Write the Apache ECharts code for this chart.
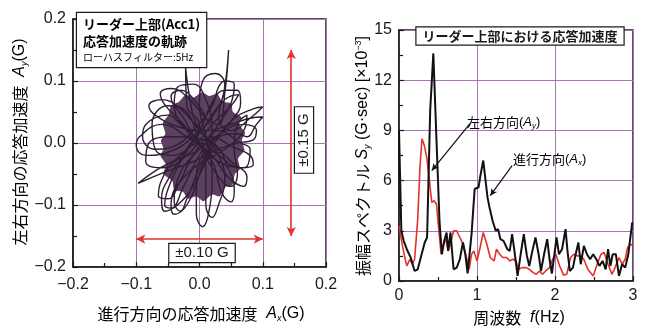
<!DOCTYPE html>
<html>
<head>
<meta charset="utf-8">
<script src="https://cdn.jsdelivr.net/npm/echarts@6/dist/echarts.min.js"></script>
<style>
  html, body { margin: 0; padding: 0; background: #fff; }
  #chart { width: 645px; height: 329px; }
</style>
</head>
<body>
<div id="chart"></div>
<script>
// Orbit of the response acceleration (Ax, Ay in G), traced loop by loop
const orbitPath = [
  [0.000, 0.000], [-0.030, 0.035], [-0.055, 0.062], [-0.062, 0.080], [-0.045, 0.088],
  [-0.015, 0.070], [0.010, 0.040], [0.030, 0.030], [0.040, 0.080], [0.046, 0.150],
  [0.040, 0.090], [0.030, 0.040], [0.050, 0.020], [0.080, 0.040], [0.100, 0.058],
  [0.085, 0.055], [0.055, 0.040], [0.030, 0.010], [0.010, -0.030], [-0.010, -0.070],
  [-0.035, -0.100], [-0.055, -0.110], [-0.060, -0.090], [-0.045, -0.050], [-0.020, -0.010],
  [0.000, 0.030], [-0.020, 0.060], [-0.022, 0.122], [-0.015, 0.070], [-0.005, 0.030],
  [0.020, 0.000], [0.050, -0.030], [0.075, -0.055], [0.070, -0.070], [0.045, -0.055],
  [0.020, -0.020], [-0.020, 0.010], [-0.060, 0.030], [-0.095, 0.010], [-0.100, -0.005],
  [-0.085, -0.020], [-0.050, -0.015], [-0.010, 0.010], [0.025, 0.050], [0.040, 0.095],
  [0.025, 0.112], [0.005, 0.100], [0.000, 0.060], [0.010, 0.010], [0.020, -0.050],
  [0.015, -0.110], [0.005, -0.135], [-0.005, -0.115], [-0.005, -0.060], [0.010, -0.010],
  [0.040, 0.020], [0.070, 0.030], [0.090, 0.020], [0.085, 0.005], [0.060, 0.000],
  [0.030, -0.010], [-0.010, -0.030], [-0.050, -0.045], [-0.097, -0.065], [-0.070, -0.045],
  [-0.030, -0.020], [0.000, 0.020], [0.020, 0.065], [0.040, 0.085], [0.060, 0.085],
  [0.065, 0.065], [0.050, 0.035], [0.020, 0.000], [0.000, -0.040], [-0.020, -0.090],
  [-0.030, -0.110], [-0.040, -0.095], [-0.035, -0.060], [-0.010, -0.020], [0.030, 0.010],
  [0.060, 0.015], [0.075, 0.010], [0.090, 0.030], [0.100, 0.042], [0.080, 0.040],
  [0.050, 0.030], [0.010, 0.020], [-0.030, 0.025], [-0.070, 0.045], [-0.080, 0.060],
  [-0.060, 0.070], [-0.030, 0.055], [0.000, 0.020], [0.030, -0.020], [0.040, -0.060],
  [0.030, -0.100], [0.020, -0.120], [0.010, -0.100], [0.010, -0.050], [0.000, 0.000],
  [-0.030, 0.030], [-0.050, 0.045], [-0.085, 0.030], [-0.090, 0.010], [-0.070, -0.010],
  [-0.040, -0.005], [-0.010, 0.020], [0.020, 0.060], [0.030, 0.090], [0.040, 0.100],
  [0.055, 0.095], [0.050, 0.065], [0.030, 0.030], [0.000, -0.010], [-0.040, -0.030],
  [-0.060, -0.060], [-0.065, -0.085], [-0.050, -0.090], [-0.030, -0.060], [-0.010, -0.020],
  [0.020, 0.010], [0.050, -0.005], [0.080, -0.020], [0.085, -0.035], [0.065, -0.040],
  [0.030, -0.020], [0.000, 0.000],
  [-0.040, -0.020], [-0.070, -0.010], [-0.075, 0.030], [-0.050, 0.060], [-0.020, 0.050],
  [0.000, 0.000], [0.020, -0.040], [0.050, -0.070], [0.060, -0.050], [0.055, -0.010],
  [0.060, 0.030], [0.075, 0.045], [0.070, 0.020], [0.040, -0.010], [-0.020, -0.050],
  [-0.045, -0.100], [-0.040, -0.115], [-0.020, -0.100], [0.000, -0.050], [0.020, 0.020],
  [0.010, 0.070], [-0.010, 0.095], [-0.035, 0.090], [-0.040, 0.060], [-0.020, 0.020],
  [0.020, -0.030], [0.035, -0.080], [0.050, -0.095], [0.055, -0.075], [0.045, -0.040],
  [0.020, 0.000], [-0.040, 0.010], [-0.080, 0.000], [-0.085, -0.030], [-0.060, -0.040],
  [-0.020, -0.020], [0.020, 0.030], [0.050, 0.060], [0.062, 0.078], [0.040, 0.070],
  [0.010, 0.030], [-0.030, -0.030], [-0.050, -0.075], [-0.055, -0.100], [-0.045, -0.105],
  [-0.025, -0.070], [0.000, -0.020], [0.030, 0.020], [0.065, 0.000], [0.080, -0.010],
  [0.070, -0.040], [0.040, -0.035], [0.000, 0.000], [-0.025, 0.040], [-0.045, 0.075],
  [-0.030, 0.085], [-0.005, 0.065], [0.015, 0.030]
];

// Outline of the densely overwritten centre of the orbit (ragged edge)
const orbitCore = [
  [-0.054, 0.015], [-0.058, 0.032], [-0.049, 0.045], [-0.045, 0.060], [-0.033, 0.066],
  [-0.022, 0.078], [-0.010, 0.073], [0.004, 0.082], [0.015, 0.076], [0.028, 0.079],
  [0.036, 0.067], [0.050, 0.064], [0.053, 0.050], [0.066, 0.042], [0.063, 0.030],
  [0.072, 0.016], [0.067, 0.005], [0.071, -0.012], [0.061, -0.025], [0.064, -0.042],
  [0.056, -0.050], [0.052, -0.068], [0.041, -0.071], [0.032, -0.086], [0.020, -0.083],
  [0.006, -0.094], [-0.005, -0.086], [-0.018, -0.090], [-0.026, -0.079], [-0.040, -0.076],
  [-0.043, -0.061], [-0.057, -0.050], [-0.053, -0.035], [-0.062, -0.020], [-0.057, -0.010],
  [-0.061, 0.004]
];

// Amplitude spectrum [frequency Hz, ×10^-3 G·sec]
const spectrumAx = [
  [0.00, 9.0], [0.03, 3.0], [0.06, 2.4], [0.10, 1.9], [0.15, 1.4], [0.20, 0.6], [0.24, 0.7],
  [0.29, 1.6], [0.33, 2.3], [0.36, 2.6], [0.40, 10.2], [0.44, 13.6], [0.48, 8.5], [0.52, 3.5],
  [0.55, 1.6], [0.58, 2.4], [0.61, 2.9], [0.63, 1.8], [0.66, 2.9], [0.70, 0.7], [0.74, 0.8],
  [0.78, 1.3], [0.82, 2.3], [0.85, 1.6], [0.88, 0.45], [0.93, 2.8], [0.97, 5.5], [1.02, 5.6],
  [1.04, 6.2], [1.08, 7.2], [1.11, 6.0], [1.135, 5.0], [1.16, 4.4], [1.20, 3.6], [1.24, 3.0],
  [1.27, 3.1], [1.30, 2.5], [1.34, 2.4], [1.39, 1.9], [1.42, 1.8], [1.45, 2.8], [1.48, 1.8],
  [1.52, 0.3], [1.56, 1.6], [1.60, 2.8], [1.64, 1.5], [1.67, 0.9], [1.71, 1.8], [1.75, 2.6],
  [1.79, 1.6], [1.82, 0.6], [1.86, 1.6], [1.90, 2.5], [1.93, 1.3], [1.96, 0.45], [1.99, 1.5],
  [2.02, 2.6], [2.05, 1.6], [2.09, 1.9], [2.135, 3.1], [2.16, 1.8], [2.19, 0.6], [2.23, 0.8],
  [2.26, 1.5], [2.30, 2.3], [2.33, 1.0], [2.37, 2.1], [2.41, 1.6], [2.45, 1.3], [2.49, 1.6],
  [2.53, 1.3], [2.57, 0.9], [2.61, 1.2], [2.65, 0.7], [2.68, 1.9], [2.71, 0.9], [2.74, 1.6],
  [2.78, 1.6], [2.82, 0.3], [2.86, 1.0], [2.90, 0.8], [2.94, 1.6], [2.99, 3.5]
];
const spectrumAy = [
  [0.00, 3.3], [0.04, 2.2], [0.07, 1.5], [0.10, 0.9], [0.14, 1.3], [0.17, 1.0], [0.20, 1.3],
  [0.24, 3.7], [0.27, 6.9], [0.295, 8.5], [0.325, 8.1], [0.355, 7.4], [0.39, 6.0], [0.42, 4.7],
  [0.45, 4.8], [0.48, 4.6], [0.51, 3.1], [0.54, 1.6], [0.57, 2.2], [0.60, 2.5], [0.63, 1.8],
  [0.66, 2.2], [0.70, 3.0], [0.74, 3.0], [0.78, 2.6], [0.82, 2.2], [0.86, 1.5], [0.90, 0.7],
  [0.93, 1.6], [0.96, 1.8], [1.00, 1.2], [1.04, 2.0], [1.08, 2.9], [1.12, 2.3], [1.17, 1.4],
  [1.22, 1.2], [1.25, 1.9], [1.29, 1.6], [1.33, 1.4], [1.38, 1.4], [1.42, 1.2], [1.46, 1.3],
  [1.50, 1.2], [1.53, 0.7], [1.58, 0.8], [1.63, 0.8], [1.67, 0.7], [1.72, 0.5], [1.76, 0.4],
  [1.80, 0.6], [1.84, 0.4], [1.88, 0.6], [1.93, 0.8], [1.97, 1.3], [2.01, 1.6], [2.06, 0.9],
  [2.11, 0.35], [2.15, 0.4], [2.20, 1.4], [2.24, 1.6], [2.29, 1.5], [2.33, 1.5], [2.37, 1.3],
  [2.42, 0.7], [2.49, 0.3], [2.54, 1.0], [2.59, 1.6], [2.63, 1.7], [2.68, 1.0], [2.73, 0.4],
  [2.77, 0.8], [2.82, 1.4], [2.86, 1.0], [2.90, 1.3], [2.93, 2.0], [2.97, 2.2], [3.00, 2.1]
];

// Range arrows on the orbit plot, and leader lines on the spectrum
const rangeArrowX = [[-0.1, -0.155], [0.1, -0.155]];
const rangeArrowY = [[0.145, 0.15], [0.145, -0.15]];
const leaderAy = [[0.91, 9.4], [0.42, 6.6]];
const leaderAx = [[1.45, 6.9], [1.17, 5.1]];

const orbitTicks = [-0.2, -0.1, 0.0, 0.1, 0.2];
const spectrumFreqTicks = [0, 1, 2, 3];
const spectrumAmpTicks = [0, 3, 6, 9, 12, 15];

const LATIN = '"Liberation Sans", Arial, sans-serif';
const CJK = '"Noto Sans CJK JP", "Noto Sans", sans-serif';
const INK = '#1a1a1a';
const GRIDC = '#a874b4';
const RED = '#e2322b';

const fmtOrbit = v => (v < 0 ? '\u2212' : '') + Math.abs(v).toFixed(1);

function valueAxis(gridIndex, ticks, fmt, margin) {
  return {
    type: 'value',
    gridIndex: gridIndex,
    min: ticks[0],
    max: ticks[ticks.length - 1],
    interval: ticks[1] - ticks[0],
    axisLine: { show: true, onZero: false, lineStyle: { color: INK, width: 1.5 } },
    axisTick: { show: true, inside: true, length: 5, lineStyle: { color: INK, width: 1.2 } },
    minorTick: { show: true, splitNumber: 2, length: 4, lineStyle: { color: INK, width: 1.2 } },
    splitLine: { show: true, lineStyle: { color: GRIDC, width: 1 } },
    axisLabel: { color: INK, fontFamily: LATIN, fontSize: 16, margin: margin, formatter: fmt }
  };
}

const chart = echarts.init(document.getElementById('chart'), null, { renderer: 'canvas' });

const subRich = {
  c: { fontFamily: CJK, fontSize: 16, color: INK },
  i: { fontFamily: LATIN, fontSize: 16, fontStyle: 'italic', color: INK },
  s: { fontFamily: LATIN, fontSize: 9, fontStyle: 'italic', color: INK, padding: [8, 0, 0, 0] },
  t: { fontFamily: LATIN, fontSize: 16, color: INK },
  sup: { fontFamily: LATIN, fontSize: 9, color: INK, padding: [0, 0, 8, 0] }
};
const smallRich = {
  c: { fontFamily: CJK, fontSize: 13, color: INK },
  i: { fontFamily: LATIN, fontSize: 13, fontStyle: 'italic', color: INK },
  s: { fontFamily: LATIN, fontSize: 8, fontStyle: 'italic', color: INK, padding: [7, 0, 0, 0] },
  t: { fontFamily: LATIN, fontSize: 13, color: INK }
};

chart.setOption({
  animation: false,
  backgroundColor: '#ffffff',
  grid: [
    { left: 73, top: 19, width: 253, height: 248, show: true, borderColor: INK, borderWidth: 1.5, backgroundColor: 'transparent' },
    { left: 399, top: 30, width: 234, height: 251, show: true, borderColor: INK, borderWidth: 1.5, backgroundColor: 'transparent' }
  ],
  xAxis: [
    valueAxis(0, orbitTicks, fmtOrbit, 10),
    valueAxis(1, spectrumFreqTicks, v => String(v), 7)
  ],
  yAxis: [
    valueAxis(0, orbitTicks, fmtOrbit, 7),
    valueAxis(1, spectrumAmpTicks, v => String(v), 7)
  ],
  series: [
    {
      type: 'custom',
      xAxisIndex: 0, yAxisIndex: 0,
      data: [[0, 0]],
      z: 2,
      silent: true,
      renderItem: function (params, api) {
        return {
          type: 'polygon',
          shape: { points: orbitCore.map(p => api.coord(p)), smooth: 0.2 },
          style: { fill: '#5d4061' }
        };
      }
    },
    {
      type: 'line',
      xAxisIndex: 0, yAxisIndex: 0,
      data: orbitPath,
      smooth: 0.45,
      symbol: 'none',
      z: 3,
      lineStyle: { color: '#2f1f35', width: 1.4 },
      markLine: {
        silent: true,
        symbol: ['arrow', 'arrow'],
        symbolSize: [7, 9],
        label: { show: false },
        lineStyle: { color: RED, width: 1.6, type: 'solid' },
        data: [
          [{ coord: rangeArrowX[0] }, { coord: rangeArrowX[1] }],
          [{ coord: rangeArrowY[0] }, { coord: rangeArrowY[1] }]
        ]
      }
    },
    {
      type: 'line',
      name: '左右方向',
      xAxisIndex: 1, yAxisIndex: 1,
      data: spectrumAy,
      symbol: 'none',
      z: 3,
      lineStyle: { color: RED, width: 1.6 }
    },
    {
      type: 'line',
      name: '進行方向',
      xAxisIndex: 1, yAxisIndex: 1,
      data: spectrumAx,
      symbol: 'none',
      z: 4,
      lineStyle: { color: '#111111', width: 2 },
      markLine: {
        silent: true,
        symbol: ['none', 'arrow'],
        symbolSize: [5, 7],
        label: { show: false },
        lineStyle: { color: '#111111', width: 1.2, type: 'solid' },
        data: [
          [{ coord: leaderAy[0] }, { coord: leaderAy[1] }],
          [{ coord: leaderAx[0] }, { coord: leaderAx[1] }]
        ]
      }
    }
  ],
  graphic: [
    // legend box of the orbit plot
    {
      type: 'text', z: 100, x: 77, y: 13,
      style: {
        text: '{a|リーダー上部(Acc1)}\n{a|応答加速度の軌跡}\n{b|ローハスフィルター:5Hz}',
        backgroundColor: '#fff', borderColor: INK, borderWidth: 1.2,
        padding: [3, 6, 3, 6],
        rich: {
          a: { fontFamily: CJK, fontSize: 13, lineHeight: 17, color: INK, fontWeight: 'bold' },
          b: { fontFamily: CJK, fontSize: 10, lineHeight: 14, color: INK }
        }
      }
    },
    // range boxes
    {
      type: 'text', z: 100, x: 202, y: 253,
      style: {
        text: '±0.10 G', fontFamily: LATIN, fontSize: 15, fill: INK,
        align: 'center', verticalAlign: 'middle',
        backgroundColor: '#fff', borderColor: INK, borderWidth: 1.2, padding: [2, 6, 1, 6]
      }
    },
    {
      type: 'text', z: 100, x: 304, y: 140, rotation: Math.PI / 2,
      style: {
        text: '±0.15 G', fontFamily: LATIN, fontSize: 15, fill: INK,
        align: 'center', verticalAlign: 'middle',
        backgroundColor: '#fff', borderColor: INK, borderWidth: 1.2, padding: [2, 6, 1, 6]
      }
    },
    // axis names of the orbit plot
    {
      type: 'text', z: 100, x: 201, y: 314,
      style: {
        text: '{c|進行方向の応答加速度}{t|  }{i|A}{s|x}{t|(G)}',
        align: 'center', verticalAlign: 'middle', rich: subRich
      }
    },
    {
      type: 'text', z: 100, x: 20, y: 142, rotation: Math.PI / 2,
      style: {
        text: '{c|左右方向の応答加速度}{t|  }{i|A}{s|y}{t|(G)}',
        align: 'center', verticalAlign: 'middle', rich: subRich
      }
    },
    // spectrum title box
    {
      type: 'text', z: 100, x: 520, y: 36,
      style: {
        text: 'リーダー上部における応答加速度', fontFamily: CJK, fontSize: 13, fontWeight: 'bold', fill: INK,
        align: 'center', verticalAlign: 'middle',
        backgroundColor: '#fff', borderColor: INK, borderWidth: 1.2, padding: [2, 6, 2, 6]
      }
    },
    // curve labels
    {
      type: 'text', z: 100, x: 467, y: 122,
      style: {
        text: '{c|左右方向}{t|(}{i|A}{s|y}{t|)}',
        align: 'left', verticalAlign: 'middle', rich: smallRich
      }
    },
    {
      type: 'text', z: 100, x: 513, y: 159,
      style: {
        text: '{c|進行方向}{t|(}{i|A}{s|x}{t|)}',
        align: 'left', verticalAlign: 'middle', rich: smallRich
      }
    },
    // axis names of the spectrum
    {
      type: 'text', z: 100, x: 519, y: 318,
      style: {
        text: '{c|周波数}{t|  }{i|f}{t|(Hz)}',
        align: 'center', verticalAlign: 'middle', rich: subRich
      }
    },
    {
      type: 'text', z: 100, x: 363, y: 156, rotation: Math.PI / 2,
      style: {
        text: '{c|振幅スペクトル}{t| }{i|S}{s|y}{t| (G·sec) [×10}{sup|−3}{t|]}',
        align: 'center', verticalAlign: 'middle', rich: subRich
      }
    }
  ]
});
</script>
</body>
</html>
